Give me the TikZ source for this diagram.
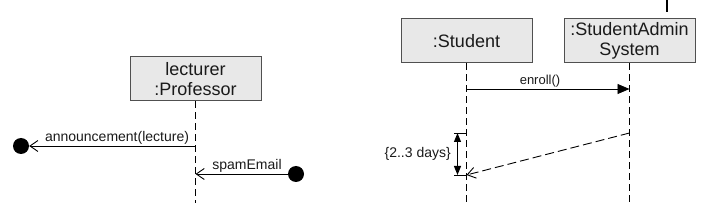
\documentclass[tikz,border=0pt]{standalone}
\usepackage{fontspec}
\setmainfont{Liberation Sans}
\usetikzlibrary{arrows.meta}
\definecolor{boxfill}{HTML}{E8E8E8}
\definecolor{boxline}{HTML}{505050}
\definecolor{ink}{HTML}{1A1A1A}
\begin{document}
\begin{tikzpicture}[x=1pt,y=-1pt,
  obj/.style={draw=boxline, fill=boxfill, line width=1pt, minimum width=131pt, minimum height=44pt, inner sep=0pt, align=center, text=ink, font=\fontsize{18}{19.5}\selectfont},
  lifeline/.style={draw=black, line width=0.9pt, dash pattern=on 7pt off 4pt},
  msgtext/.style={text=ink, inner sep=0pt, font=\fontsize{14}{16}\selectfont},
  dot/.style={circle, fill=black, minimum size=16pt, inner sep=0pt},
  openhead/.style={-{Straight Barb[length=8pt,width=11pt,line width=0.9pt]}},
  synchead/.style={-{Triangle[length=12pt,width=10pt]}},
  msgline/.style={draw=black, line width=0.9pt}
]
\useasboundingbox (0,0) rectangle (710,224);

% left part
\node[obj] (prof) at (195.5,79) {lecturer\\:Professor};
\coordinate (profend) at (195.5,203);
\draw[lifeline] (prof.south) -- (profend);
\coordinate (p1) at (195.5,146);
\coordinate (p2) at (195.5,174);
\node[dot] (d1) at (21,146) {};
\node[dot] (d2) at (296,174) {};
\draw[msgline, openhead] (p1) -- (d1);
\draw[msgline, openhead] (d2) -- (p2);
\node[msgtext, anchor=base] (l1) at (117,142) {announcement(lecture)};
\node[msgtext, anchor=base] (l2) at (247,170) {spamEmail};

% right part
\node[obj] (stud) at (466.5,41) {:Student};
\node[obj] (sas) at (629.5,41) {:StudentAdmin\\System};
\coordinate (studend) at (466.5,203);
\coordinate (sasend) at (629.5,203);
\draw[lifeline] (stud.south) -- (studend);
\draw[lifeline] (sas.south) -- (sasend);

\coordinate (top1) at (667,0);
\coordinate (top2) at (667,12);
\draw[line width=2pt, black] (top1) -- (top2);

\coordinate (e1) at (466.5,89);
\coordinate (e2) at (629.5,89);
\draw[msgline, synchead] (e1) -- (e2);
\node[msgtext, anchor=base, font=\fontsize{13}{15}\selectfont] (el) at (540,85) {enroll()};

\coordinate (r1) at (629.5,133);
\coordinate (r2) at (466.5,175);
\draw[msgline, openhead, dash pattern=on 9pt off 4pt] (r1) -- (r2);

\coordinate (t1) at (454,133);
\coordinate (t2) at (454,175);
\coordinate (t1b) at (466.5,133);
\coordinate (t2b) at (466.5,175);
\draw[msgline] (t1) -- (t1b);
\draw[msgline] (t2) -- (t2b);
\coordinate (a1) at (457.5,133);
\coordinate (a2) at (457.5,175);
\draw[msgline, {Triangle[length=9pt,width=7pt]}-{Triangle[length=9pt,width=7pt]}] (a1) -- (a2);
\node[msgtext, anchor=east] (tl) at (451,154) {\{2..3 days\}};
\end{tikzpicture}
\end{document}
